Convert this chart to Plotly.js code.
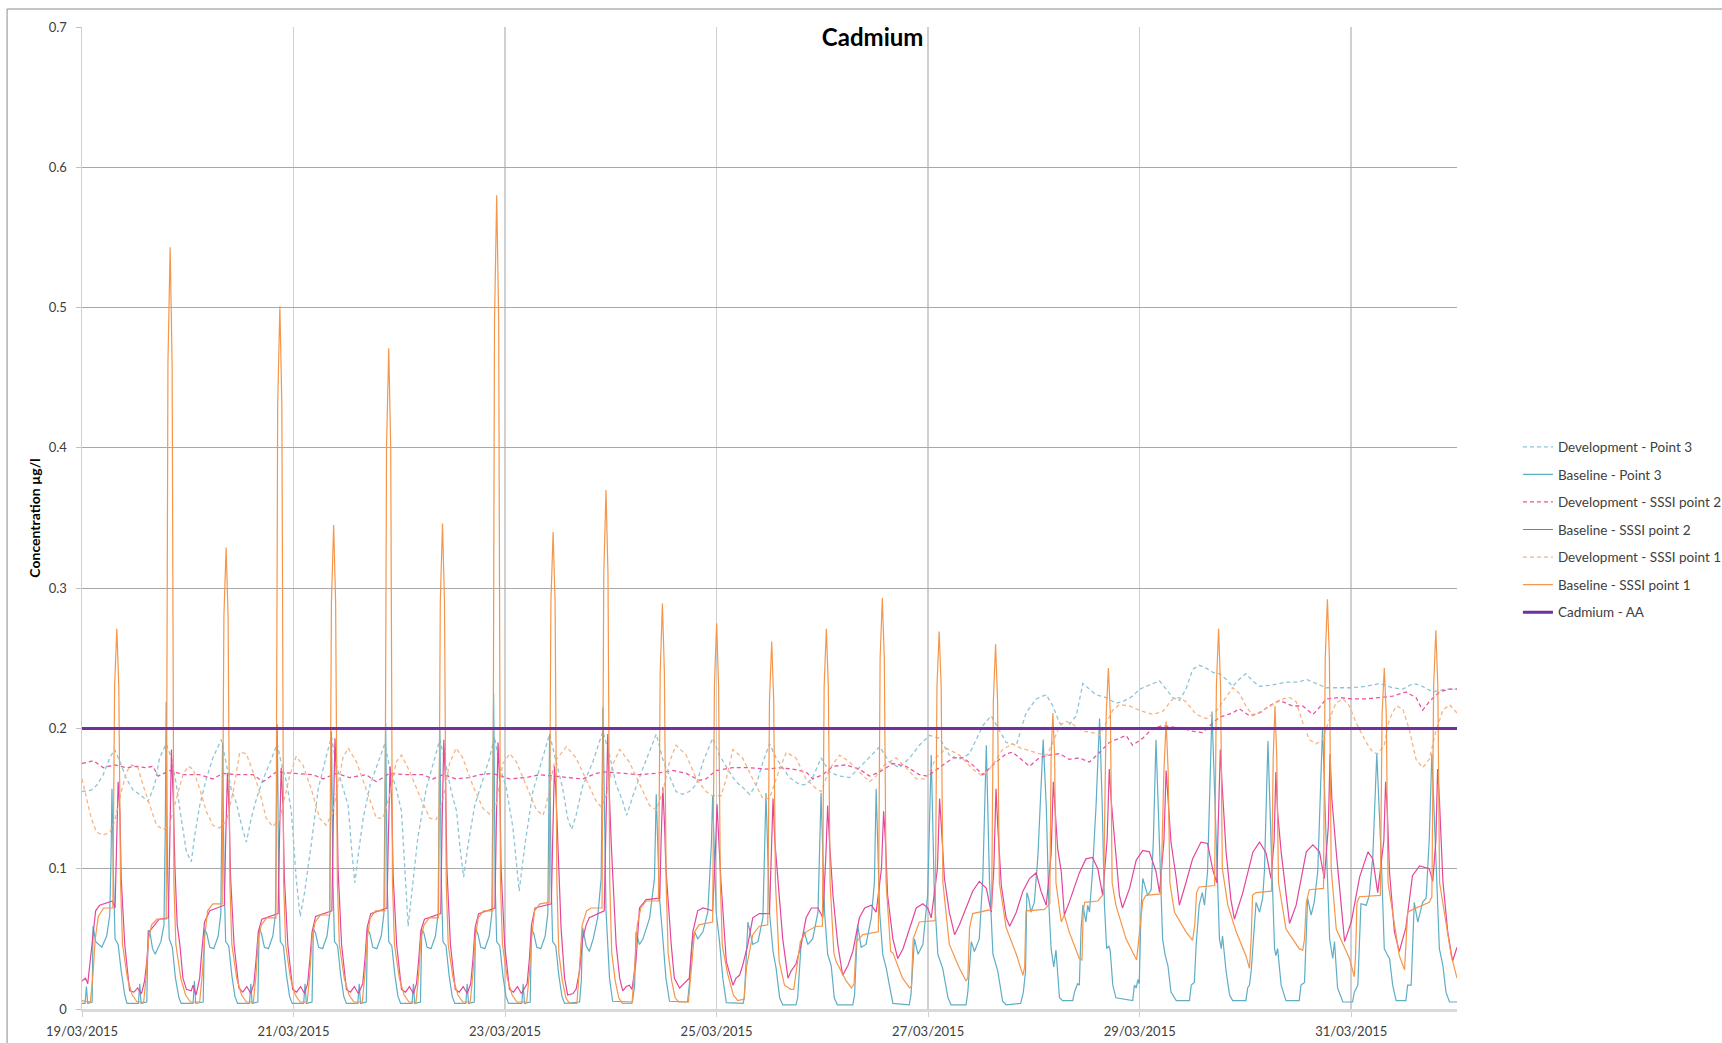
<!DOCTYPE html>
<html>
<head>
<meta charset="utf-8">
<script src="https://cdn.plot.ly/plotly-3.0.1.min.js"></script>
<style>html,body{margin:0;padding:0;background:#fff;}#chart{width:1722px;height:1043px;}</style>
</head>
<body>
<div id="chart"></div>
<script>
// Hours after 19/03/2015 00:00 and concentration (µg/l)
const devPoint3 = [
[0,0.155],[2.1,0.156],[3.5,0.160],[4.8,0.167],[6.3,0.179],[7.4,0.185],[8.5,0.177],[10.1,0.164],[11.6,0.156],[13.1,0.153],[15.0,0.148],[16.5,0.16],[17.6,0.179],[19.1,0.189],[20.3,0.179],[21.4,0.16],[22.5,0.136],[23.7,0.112],[24.8,0.105],[25.6,0.124],[26.7,0.145],[28.2,0.164],[29.7,0.179],[31.6,0.192],[32.8,0.174],[33.9,0.156],[35.0,0.147],[36.2,0.131],[37.3,0.119],[38.4,0.136],[39.6,0.15],[41.1,0.164],[42.6,0.175],[44.3,0.189],[45.3,0.174],[46.4,0.162],[47.5,0.141],[48.6,0.093],[49.5,0.066],[50.5,0.083],[52.0,0.117],[53.6,0.157],[55.5,0.181],[56.6,0.194],[57.7,0.174],[59.2,0.157],[60.4,0.145],[61.1,0.117],[61.9,0.09],[62.6,0.108],[63.8,0.136],[65.4,0.16],[67.2,0.176],[68.7,0.189],[69.8,0.172],[71.3,0.157],[72.5,0.141],[73.2,0.103],[74.0,0.059],[74.8,0.082],[76.2,0.122],[78.1,0.157],[79.6,0.174],[81.2,0.192],[82.7,0.172],[83.8,0.155],[85.0,0.141],[85.7,0.117],[86.6,0.094],[87.6,0.117],[89.1,0.145],[91.0,0.165],[92.5,0.179],[93.6,0.194],[94.7,0.174],[96.3,0.157],[97.8,0.129],[99.2,0.084],[100.5,0.117],[102.3,0.155],[104.2,0.175],[106.1,0.196],[107.6,0.176],[109.1,0.157],[110.2,0.136],[111.1,0.128],[112.1,0.138],[113.6,0.159],[115.9,0.176],[118.2,0.198],[119.7,0.181],[121.2,0.16],[122.7,0.148],[123.6,0.138],[125.0,0.152],[127.2,0.171],[130.3,0.196],[131.8,0.178],[133.3,0.166],[134.8,0.155],[136.3,0.153],[137.8,0.155],[139.4,0.16],[140.9,0.176],[143.1,0.193],[144.6,0.181],[146.9,0.169],[148.4,0.162],[149.9,0.158],[151.5,0.153],[153.0,0.16],[154.5,0.176],[156.0,0.189],[157.5,0.179],[159.0,0.172],[160.5,0.165],[162.8,0.16],[164.3,0.16],[165.8,0.165],[167.7,0.179],[169.6,0.169],[171.9,0.166],[174.2,0.165],[176.4,0.172],[178.7,0.179],[181.0,0.187],[183.2,0.176],[185.5,0.172],[187.8,0.179],[190.0,0.188],[192.3,0.195],[194.6,0.193],[196.8,0.181],[199.1,0.178],[201.4,0.182],[204.4,0.202],[206.3,0.209],[208.2,0.198],[209.7,0.19],[212.0,0.188],[214.2,0.211],[216.5,0.221],[218.8,0.224],[220.3,0.216],[221.8,0.204],[223.3,0.2],[225.6,0.209],[227.1,0.232],[228.6,0.228],[230.1,0.224],[232.4,0.222],[234.6,0.218],[236.1,0.219],[238.4,0.223],[240.0,0.228],[242.2,0.231],[244.5,0.234],[246.0,0.228],[247.5,0.222],[249.0,0.22],[250.5,0.228],[252.0,0.242],[253.5,0.245],[255.1,0.243],[256.6,0.24],[258.1,0.239],[259.6,0.235],[261.1,0.23],[262.6,0.235],[264.1,0.239],[265.6,0.234],[267.2,0.23],[270.2,0.231],[273.2,0.233],[276.2,0.233],[277.8,0.235],[280.0,0.232],[282.3,0.229],[285.3,0.229],[288.3,0.229],[291.4,0.23],[294.4,0.232],[297.4,0.229],[299.7,0.228],[302.0,0.232],[303.5,0.231],[306.5,0.226],[309.5,0.228],[312.0,0.228]
];

const basePoint3 = [
[0,0.004],[0.7,0.004],[1.0,0.016],[1.3,0.004],[2.3,0.005],[2.5,0.059],[3.1,0.048],[3.7,0.046],[4.5,0.044],[5.6,0.052],[6.3,0.067],[6.6,0.11],[6.8,0.157],[7.1,0.1],[7.5,0.05],[8.2,0.046],[8.9,0.027],[9.7,0.01],[10.2,0.004],
[12.8,0.004],[13.1,0.018],[13.4,0.004],[14.7,0.005],[15.0,0.056],[15.4,0.055],[16.0,0.043],[16.6,0.039],[17.9,0.048],[18.6,0.06],[18.9,0.13],[19.1,0.219],[19.4,0.1],[19.8,0.05],[20.5,0.044],[21.2,0.022],[22.0,0.008],[22.5,0.004],
[25.2,0.004],[25.5,0.02],[25.8,0.004],[27.5,0.005],[27.8,0.057],[28.3,0.054],[29.0,0.044],[29.9,0.043],[30.9,0.052],[31.5,0.068],[31.9,0.19],[32.25,0.09],[32.6,0.048],[33.3,0.045],[34.0,0.024],[34.7,0.009],[35.3,0.004],
[38.0,0.004],[38.3,0.018],[38.6,0.004],[39.9,0.005],[40.2,0.057],[40.7,0.054],[41.4,0.044],[42.3,0.043],[43.3,0.052],[43.9,0.068],[44.3,0.203],[44.65,0.09],[45.0,0.048],[45.7,0.045],[46.4,0.024],[47.1,0.009],[47.7,0.004],
[50.3,0.004],[50.6,0.018],[50.9,0.004],[52.2,0.005],[52.5,0.057],[53.0,0.054],[53.7,0.044],[54.6,0.043],[55.6,0.052],[56.2,0.068],[56.6,0.198],[56.95,0.09],[57.3,0.048],[58.0,0.045],[58.7,0.024],[59.4,0.009],[60.0,0.004],
[62.6,0.004],[62.9,0.018],[63.2,0.004],[64.5,0.005],[64.8,0.057],[65.3,0.054],[66.0,0.044],[66.9,0.043],[67.9,0.052],[68.5,0.068],[68.9,0.204],[69.25,0.09],[69.6,0.048],[70.3,0.045],[71.0,0.024],[71.7,0.009],[72.3,0.004],
[74.9,0.004],[75.2,0.018],[75.5,0.004],[76.8,0.005],[77.1,0.057],[77.6,0.054],[78.3,0.044],[79.2,0.043],[80.2,0.052],[80.8,0.068],[81.2,0.199],[81.55,0.09],[81.9,0.048],[82.6,0.045],[83.3,0.024],[84.0,0.009],[84.6,0.004],
[87.1,0.004],[87.4,0.018],[87.7,0.004],[89.0,0.005],[89.3,0.057],[89.8,0.054],[90.5,0.044],[91.4,0.043],[92.4,0.052],[93.0,0.068],[93.4,0.225],[93.75,0.09],[94.1,0.048],[94.8,0.045],[95.5,0.024],[96.2,0.009],[96.8,0.004],
[99.8,0.004],[100.1,0.018],[100.4,0.004],[101.7,0.005],[102.0,0.057],[102.5,0.054],[103.2,0.044],[104.1,0.043],[105.1,0.052],[105.7,0.068],[106.1,0.196],[106.45,0.09],[106.8,0.048],[107.5,0.045],[108.2,0.024],[108.9,0.009],[109.5,0.004],
[112.9,0.005],[113.3,0.02],[113.6,0.058],[114.4,0.045],[115.1,0.041],[116.0,0.05],[117.0,0.065],[117.8,0.093],[118.2,0.215],[118.9,0.07],[119.7,0.022],[120.4,0.0055],
[124.9,0.005],[125.4,0.017],[125.7,0.055],[126.5,0.046],[127.3,0.05],[128.8,0.065],[129.9,0.093],[130.3,0.153],[131.0,0.081],[131.8,0.05],[132.5,0.022],[133.3,0.0055],
[137.4,0.005],[137.8,0.017],[138.4,0.046],[139.0,0.055],[139.7,0.05],[140.9,0.055],[142.0,0.069],[142.8,0.117],[143.1,0.152],[143.9,0.069],[144.6,0.05],[145.4,0.022],[146.2,0.0045],
[150.0,0.004],[150.3,0.008],[151.1,0.062],[152.2,0.046],[153.4,0.048],[154.5,0.065],[155.2,0.154],[156.0,0.069],[156.8,0.041],[157.5,0.029],[158.3,0.008],[159.0,0.003],
[162.0,0.003],[162.4,0.008],[163.2,0.048],[163.9,0.055],[164.7,0.046],[165.8,0.05],[167.0,0.069],[167.7,0.154],[168.5,0.069],[169.2,0.039],[170.0,0.031],[170.7,0.008],[171.4,0.003],
[174.9,0.003],[175.3,0.01],[176.0,0.06],[176.8,0.044],[177.9,0.046],[179.1,0.065],[179.8,0.09],[180.2,0.157],[181.0,0.069],[181.7,0.039],[182.5,0.029],[183.2,0.017],[184.0,0.004],
[187.7,0.003],[188.1,0.01],[188.9,0.05],[189.7,0.039],[190.8,0.046],[191.9,0.082],[192.7,0.181],[193.4,0.082],[194.2,0.039],[195.3,0.029],[196.5,0.008],[197.2,0.003],
[200.6,0.003],[201.0,0.012],[201.8,0.048],[202.5,0.041],[203.6,0.05],[204.4,0.093],[205.2,0.188],[205.9,0.093],[206.7,0.039],[207.8,0.027],[208.9,0.0055],[209.7,0.003],
[213.0,0.004],[213.6,0.012],[214.1,0.027],[214.4,0.083],[214.8,0.079],[215.3,0.069],[216.1,0.076],[216.9,0.109],[217.6,0.157],[218.1,0.192],[218.8,0.145],[219.4,0.074],[219.9,0.043],[220.5,0.03],[221.0,0.042],[221.8,0.008],[222.5,0.006],[224.8,0.006],[225.2,0.012],[225.9,0.018],[226.3,0.017],
[226.7,0.057],[227.1,0.074],[227.8,0.062],[228.2,0.074],[228.6,0.069],[229.3,0.098],[230.1,0.145],[230.9,0.207],[231.5,0.145],[232.0,0.074],[232.5,0.043],[233.0,0.045],[233.3,0.042],[233.9,0.017],[234.6,0.008],[238.4,0.006],[238.8,0.017],[239.2,0.015],[239.6,0.021],[239.9,0.018],
[240.3,0.07],[240.7,0.093],[241.8,0.081],[242.6,0.085],[243.1,0.12],[243.7,0.192],[244.5,0.121],[245.2,0.05],[245.8,0.038],[246.4,0.031],[247.1,0.012],[248.3,0.006],[251.3,0.006],[251.7,0.017],[252.4,0.019],
[252.8,0.045],[253.5,0.074],[254.2,0.083],[254.7,0.074],[255.4,0.098],[256.4,0.212],[257.3,0.133],[258.1,0.05],[258.5,0.043],[258.8,0.052],[259.6,0.027],[260.4,0.01],[261.1,0.006],[264.1,0.006],[264.5,0.015],[264.9,0.017],[265.3,0.027],[265.6,0.041],
[266.4,0.076],[267.2,0.069],[267.9,0.079],[268.3,0.098],[269.1,0.191],[269.8,0.12],[270.6,0.043],[270.9,0.038],[271.3,0.043],[272.1,0.017],[273.2,0.006],[276.2,0.006],[276.6,0.017],[277.4,0.019],
[278.1,0.079],[278.9,0.067],[279.6,0.076],[280.4,0.098],[281.5,0.201],[282.3,0.121],[283.1,0.05],[283.8,0.036],[284.2,0.048],[284.9,0.015],[286.1,0.005],[288.3,0.005],
[288.7,0.012],[289.5,0.017],[290.2,0.075],[291.4,0.074],[292.1,0.081],[292.9,0.109],[293.8,0.182],[294.8,0.109],[295.5,0.043],[296.3,0.038],[296.7,0.036],[297.4,0.017],[298.2,0.006],[300.4,0.006],
[300.8,0.017],[301.6,0.017],[302.3,0.076],[303.1,0.062],[304.2,0.076],[305.0,0.079],[305.7,0.121],[306.3,0.182],[307.1,0.121],[308.0,0.043],[308.8,0.031],[309.5,0.012],[310.3,0.005],[312.0,0.005]
];

const devSSSI2 = [
[0,0.175],[2.6,0.177],[4.8,0.172],[7.4,0.174],[10.1,0.172],[12.3,0.173],[14.6,0.172],[16.1,0.173],[17.3,0.166],[19.9,0.17],[22.9,0.167],[26.7,0.167],[29.7,0.164],[32.0,0.168],[35.0,0.167],[38.8,0.167],[41.1,0.162],[44.1,0.169],[47.9,0.168],[52.4,0.167],[54.7,0.164],[57.7,0.168],[60.7,0.165],[64.5,0.167],[66.8,0.162],[69.8,0.168],[73.6,0.167],[77.4,0.167],[79.6,0.164],[81.9,0.167],[84.9,0.164],[87.9,0.165],[90.2,0.167],[93.2,0.168],[97.0,0.164],[100.8,0.165],[103.8,0.167],[106.8,0.166],[109.9,0.165],[113.6,0.164],[116.7,0.168],[118.9,0.169],[122.7,0.168],[126.5,0.167],[130.3,0.168],[134.1,0.17],[137.1,0.168],[140.1,0.163],[141.6,0.164],[143.9,0.17],[147.7,0.172],[151.5,0.172],[155.2,0.171],[158.3,0.172],[161.3,0.171],[164.3,0.169],[165.8,0.164],[168.1,0.167],[170.4,0.173],[173.4,0.174],[176.4,0.171],[178.7,0.166],[181.0,0.169],[184.0,0.175],[187.0,0.173],[190.0,0.167],[191.9,0.166],[194.6,0.172],[197.6,0.179],[199.9,0.179],[202.1,0.174],[204.4,0.167],[206.7,0.174],[209.7,0.182],[211.2,0.183],[213.5,0.177],[215.0,0.173],[217.2,0.179],[219.5,0.181],[221.8,0.182],[224.0,0.178],[226.3,0.179],[228.6,0.176],[230.9,0.183],[233.1,0.19],[234.6,0.192],[236.9,0.195],[238.4,0.188],[240.7,0.193],[242.9,0.2],[245.2,0.202],[247.5,0.201],[249.8,0.2],[252.0,0.198],[254.3,0.197],[256.6,0.204],[258.1,0.208],[261.1,0.211],[262.6,0.214],[264.9,0.209],[267.2,0.211],[269.4,0.216],[271.7,0.22],[274.7,0.216],[277.0,0.216],[279.3,0.21],[280.8,0.215],[282.3,0.221],[285.3,0.222],[288.3,0.221],[291.4,0.221],[294.4,0.222],[297.4,0.223],[300.4,0.226],[302.7,0.222],[304.2,0.213],[305.7,0.219],[308.0,0.226],[310.3,0.228],[312.0,0.228]
];

const baseSSSI2 = [
[0,0.02],[0.8,0.022],[1.3,0.018],[1.9,0.035],[2.5,0.05],[3.1,0.07],[4.0,0.074],[6.9,0.077],[7.5,0.072],[7.8,0.12],[8.2,0.162],[8.6,0.14],[8.9,0.093],[9.7,0.046],[10.1,0.034],[10.8,0.013],[11.8,0.012],[12.6,0.015],[13.5,0.011],
[14.2,0.02],[14.7,0.034],[15.2,0.055],[16.5,0.06],[17.5,0.064],[19.6,0.065],[19.9,0.13],[20.3,0.185],[20.7,0.15],[21.1,0.1],[21.6,0.06],[22.2,0.046],[22.9,0.022],[23.7,0.014],[24.8,0.013],[25.2,0.017],[25.9,0.01],[26.7,0.022],
[27.1,0.038],[27.8,0.062],[29.0,0.07],[30.5,0.072],[32.3,0.074],[32.6,0.12],[33.0,0.168],[33.4,0.14],[33.7,0.095],[34.5,0.046],[34.9,0.034],[35.6,0.015],[36.5,0.012],[37.4,0.016],[38.3,0.011],
[39.0,0.018],[39.5,0.035],[40.0,0.055],[40.8,0.064],[44.5,0.068],[44.8,0.12],[45.2,0.172],[45.6,0.145],[45.9,0.095],[46.7,0.046],[47.1,0.034],[47.8,0.014],[48.7,0.012],[49.6,0.016],[50.5,0.011],
[51.2,0.018],[51.7,0.035],[52.2,0.055],[53.0,0.066],[56.7,0.07],[57.0,0.13],[57.4,0.193],[57.8,0.16],[58.1,0.1],[58.9,0.046],[59.3,0.034],[60.0,0.014],[60.9,0.012],[61.8,0.016],[62.7,0.011],
[63.7,0.018],[64.2,0.035],[64.7,0.058],[65.5,0.068],[69.2,0.072],[69.5,0.12],[69.9,0.173],[70.3,0.145],[70.6,0.095],[71.4,0.046],[71.8,0.034],[72.5,0.014],[73.4,0.012],[74.3,0.016],[75.2,0.011],
[75.9,0.018],[76.4,0.035],[76.9,0.056],[77.7,0.064],[81.4,0.068],[81.7,0.13],[82.1,0.192],[82.5,0.16],[82.8,0.1],[83.6,0.046],[84.0,0.034],[84.7,0.014],[85.6,0.012],[86.5,0.016],[87.4,0.011],
[88.2,0.018],[88.7,0.035],[89.2,0.058],[90.0,0.068],[93.7,0.072],[94.0,0.13],[94.4,0.19],[94.8,0.16],[95.1,0.1],[95.9,0.046],[96.3,0.034],[97.0,0.014],[97.9,0.012],[98.8,0.016],[99.7,0.011],
[101.0,0.018],[101.5,0.035],[102.0,0.06],[102.8,0.072],[106.5,0.075],[106.8,0.12],[107.2,0.173],[107.6,0.15],[108.0,0.117],[108.7,0.058],[109.5,0.022],[110.2,0.01],[111.4,0.011],[112.1,0.014],
[112.9,0.027],[113.6,0.05],[114.4,0.06],[115.1,0.065],[118.5,0.07],[118.9,0.13],[119.3,0.196],[119.7,0.15],[120.1,0.117],[121.2,0.046],[122.0,0.022],[122.7,0.013],[123.5,0.016],[124.2,0.017],[124.8,0.014],
[125.7,0.034],[126.5,0.072],[128.0,0.078],[131.1,0.079],[131.4,0.12],[131.8,0.158],[132.2,0.13],[132.5,0.1],[133.7,0.046],[134.4,0.022],[135.6,0.015],[136.3,0.017],[137.1,0.02],[137.8,0.022],
[138.6,0.055],[139.7,0.07],[140.9,0.072],[143.1,0.07],[143.7,0.11],[144.1,0.146],[144.5,0.12],[145.0,0.09],[146.2,0.034],[147.7,0.017],[148.4,0.022],[149.2,0.024],[149.9,0.031],
[151.1,0.046],[152.2,0.065],[153.7,0.068],[156.0,0.068],[156.4,0.11],[156.8,0.15],[157.2,0.12],[157.9,0.09],[159.0,0.05],[160.2,0.022],[160.9,0.027],[162.0,0.032],
[163.2,0.046],[164.3,0.065],[165.5,0.072],[167.0,0.072],[168.1,0.065],[168.8,0.11],[169.2,0.145],[169.6,0.12],[170.4,0.081],[171.5,0.046],[172.6,0.024],[173.8,0.031],[174.9,0.041],
[176.4,0.065],[177.6,0.072],[179.1,0.074],[180.2,0.069],[181.4,0.1],[181.9,0.141],[182.3,0.12],[182.8,0.081],[184.0,0.05],[185.1,0.036],[186.3,0.043],[187.8,0.058],
[189.3,0.072],[190.8,0.075],[191.9,0.072],[192.7,0.065],[194.1,0.1],[194.6,0.15],[195.0,0.13],[195.7,0.093],[196.8,0.069],[198.0,0.053],[199.1,0.06],[200.6,0.072],[202.1,0.084],[203.6,0.091],[205.2,0.086],[206.3,0.069],
[206.9,0.1],[207.4,0.157],[207.8,0.13],[208.6,0.088],[209.7,0.065],[210.5,0.059],[212.0,0.069],[213.5,0.084],[215.0,0.093],[216.5,0.097],[217.6,0.084],[218.8,0.074],
[219.9,0.11],[220.4,0.162],[220.8,0.14],[221.4,0.114],[222.2,0.098],[222.9,0.067],[224.0,0.076],[225.2,0.087],[226.3,0.097],[227.8,0.107],[229.3,0.108],[230.5,0.1],[231.6,0.081],
[232.6,0.12],[233.1,0.171],[233.5,0.15],[234.3,0.121],[235.4,0.081],[236.1,0.072],[237.7,0.086],[239.2,0.106],[240.7,0.113],[242.2,0.112],[243.7,0.098],[244.5,0.083],
[245.5,0.12],[246.0,0.17],[246.4,0.15],[247.1,0.119],[248.3,0.093],[249.0,0.074],[250.5,0.09],[252.0,0.107],[253.9,0.119],[255.4,0.118],[256.6,0.099],[257.5,0.09],
[257.8,0.13],[258.3,0.185],[258.7,0.16],[259.6,0.112],[260.7,0.078],[261.5,0.064],[263.4,0.083],[265.7,0.112],[267.2,0.119],[268.7,0.111],[269.8,0.093],
[270.5,0.12],[270.9,0.169],[271.3,0.14],[272.1,0.112],[273.2,0.083],[274.0,0.061],[275.5,0.074],[277.8,0.112],[279.3,0.117],[280.8,0.112],[281.9,0.093],
[282.8,0.13],[283.2,0.182],[283.6,0.15],[284.6,0.112],[285.7,0.077],[286.5,0.048],[288.0,0.062],[289.9,0.094],[291.8,0.112],[292.9,0.107],[294.0,0.083],
[295.4,0.12],[295.8,0.162],[296.2,0.14],[296.7,0.097],[297.8,0.055],[298.9,0.041],[300.4,0.058],[301.9,0.095],[303.5,0.102],[305.7,0.1],[306.5,0.091],
[307.2,0.12],[307.6,0.171],[308.0,0.15],[308.8,0.091],[309.9,0.055],[311.0,0.034],[312.0,0.044]
];

const devSSSI1 = [
[0,0.164],[1.0,0.15],[2.1,0.136],[3.3,0.126],[4.8,0.124],[6.3,0.126],[7.4,0.134],[8.6,0.151],[10.1,0.169],[11.2,0.174],[12.7,0.172],[13.8,0.16],[15.4,0.145],[16.9,0.131],[18.4,0.128],[19.9,0.131],[21.0,0.145],[22.9,0.167],[24.1,0.173],[25.2,0.171],[26.7,0.157],[28.2,0.141],[29.7,0.131],[31.2,0.129],[32.8,0.134],[34.3,0.155],[35.8,0.183],[37.3,0.182],[38.8,0.169],[40.3,0.155],[41.8,0.136],[43.3,0.13],[44.9,0.136],[47.1,0.166],[48.6,0.18],[50.1,0.174],[52.0,0.157],[53.9,0.136],[55.4,0.131],[56.9,0.14],[59.2,0.179],[60.4,0.186],[62.3,0.176],[64.5,0.157],[66.8,0.136],[68.3,0.136],[69.8,0.152],[71.3,0.176],[72.5,0.181],[74.4,0.169],[76.6,0.152],[78.9,0.136],[80.4,0.135],[81.9,0.149],[83.4,0.175],[84.9,0.186],[86.4,0.179],[88.7,0.159],[91.0,0.143],[92.5,0.139],[94.0,0.146],[95.5,0.175],[97.1,0.182],[98.6,0.176],[100.8,0.159],[103.1,0.142],[104.6,0.138],[105.3,0.145],[107.2,0.176],[109.9,0.187],[112.1,0.179],[114.4,0.164],[116.7,0.148],[117.8,0.144],[118.9,0.152],[120.4,0.174],[122.0,0.185],[124.2,0.176],[126.5,0.16],[128.8,0.145],[130.3,0.142],[131.8,0.155],[133.3,0.176],[134.8,0.188],[137.1,0.181],[139.4,0.164],[141.6,0.155],[143.1,0.152],[145.0,0.152],[146.2,0.164],[147.7,0.185],[149.9,0.179],[152.2,0.164],[154.5,0.15],[156.0,0.15],[157.5,0.164],[159.8,0.183],[162.0,0.179],[164.3,0.164],[166.6,0.157],[167.7,0.155],[169.6,0.171],[171.9,0.181],[174.2,0.176],[176.4,0.169],[178.7,0.162],[180.2,0.166],[181.7,0.173],[184.7,0.179],[187.0,0.172],[189.3,0.164],[191.5,0.164],[193.8,0.179],[196.1,0.186],[199.1,0.181],[202.1,0.171],[204.4,0.166],[206.7,0.174],[208.9,0.185],[211.2,0.189],[213.0,0.186],[215.0,0.184],[217.2,0.182],[219.0,0.181],[220.3,0.19],[221.8,0.202],[223.3,0.205],[224.8,0.203],[227.1,0.198],[229.4,0.197],[230.9,0.195],[232.4,0.204],[233.9,0.213],[235.4,0.217],[237.7,0.216],[239.9,0.213],[242.9,0.21],[245.2,0.212],[247.5,0.221],[249.0,0.222],[250.5,0.219],[252.8,0.21],[255.1,0.207],[257.3,0.212],[258.8,0.219],[261.1,0.229],[262.6,0.225],[264.1,0.216],[265.7,0.209],[267.9,0.213],[270.9,0.218],[272.5,0.221],[274.0,0.222],[275.5,0.219],[277.0,0.204],[278.5,0.192],[280.0,0.189],[281.5,0.192],[283.0,0.206],[284.5,0.218],[286.1,0.221],[287.6,0.216],[289.1,0.204],[291.4,0.19],[292.9,0.183],[294.0,0.182],[295.5,0.188],[296.6,0.206],[298.2,0.216],[299.7,0.214],[301.2,0.199],[302.7,0.178],[304.2,0.172],[305.7,0.178],[307.2,0.198],[308.8,0.213],[310.3,0.217],[312.0,0.211]
];

const baseSSSI1 = [
[0,0.006],[1.9,0.005],[2.5,0.025],[3.0,0.05],[3.7,0.066],[4.9,0.072],[7.0,0.072],[7.4,0.23],[7.9,0.271],[8.35,0.23],[8.75,0.09],[9.2,0.046],[10.3,0.022],[11.4,0.01],[12.5,0.005],
[14.0,0.005],[14.6,0.025],[15.1,0.05],[15.8,0.06],[17.0,0.064],[19.1,0.064],[19.5,0.46],[20.0,0.543],[20.45,0.46],[20.85,0.09],[21.3,0.046],[22.4,0.022],[23.5,0.01],[24.6,0.005],
[26.7,0.005],[27.3,0.025],[27.8,0.05],[28.5,0.07],[29.7,0.075],[31.8,0.075],[32.2,0.28],[32.7,0.329],[33.15,0.28],[33.55,0.09],[34.0,0.046],[35.1,0.022],[36.2,0.01],[37.3,0.005],
[38.9,0.005],[39.5,0.025],[40.0,0.05],[40.7,0.06],[41.9,0.065],[44.0,0.065],[44.4,0.43],[44.9,0.501],[45.35,0.43],[45.75,0.09],[46.2,0.046],[47.3,0.022],[48.4,0.01],[49.5,0.005],
[51.1,0.005],[51.7,0.025],[52.2,0.05],[52.9,0.062],[54.1,0.067],[56.2,0.067],[56.6,0.29],[57.1,0.345],[57.55,0.29],[57.95,0.09],[58.4,0.046],[59.5,0.022],[60.6,0.01],[61.7,0.005],
[63.6,0.005],[64.2,0.025],[64.7,0.05],[65.4,0.065],[66.6,0.07],[68.7,0.07],[69.1,0.40],[69.6,0.471],[70.05,0.40],[70.45,0.09],[70.9,0.046],[72.0,0.022],[73.1,0.01],[74.2,0.005],
[75.8,0.005],[76.4,0.025],[76.9,0.05],[77.6,0.06],[78.8,0.065],[80.9,0.065],[81.3,0.29],[81.8,0.346],[82.25,0.29],[82.65,0.09],[83.1,0.046],[84.2,0.022],[85.3,0.01],[86.4,0.005],
[88.1,0.005],[88.7,0.025],[89.2,0.05],[89.9,0.065],[91.1,0.07],[93.2,0.07],[93.6,0.49],[94.1,0.58],[94.55,0.49],[94.95,0.09],[95.4,0.046],[96.5,0.022],[97.6,0.01],[98.7,0.005],
[100.9,0.005],[101.5,0.025],[102.0,0.05],[102.7,0.07],[103.9,0.075],[106.0,0.076],[106.4,0.29],[106.9,0.34],[107.35,0.29],[107.75,0.09],[108.2,0.04],[109.0,0.02],[109.8,0.008],[110.6,0.004],
[112.3,0.004],[112.9,0.03],[113.5,0.06],[114.5,0.07],[115.5,0.072],[118.0,0.072],[118.4,0.31],[118.9,0.37],[119.35,0.31],[119.75,0.09],[120.2,0.04],[121.0,0.02],[121.8,0.008],[122.6,0.004],
[124.8,0.004],[125.4,0.03],[126.0,0.06],[126.8,0.072],[128.0,0.077],[130.8,0.077],[131.2,0.24],[131.7,0.289],[132.15,0.24],[132.55,0.09],[133.0,0.04],[133.8,0.02],[134.6,0.008],[135.4,0.005],
[137.6,0.005],[138.3,0.03],[139.0,0.055],[140.0,0.06],[141.5,0.061],[143.1,0.062],[143.5,0.23],[144.0,0.275],[144.45,0.23],[144.85,0.09],[145.3,0.045],[146.5,0.025],[147.8,0.01],[148.8,0.006],
[150.2,0.007],[150.8,0.03],[152.2,0.053],[153.7,0.059],[155.6,0.06],[156.0,0.22],[156.5,0.262],[156.95,0.22],[157.35,0.09],[158.2,0.034],[159.4,0.017],[160.8,0.014],
[161.5,0.014],[162.4,0.035],[163.0,0.048],[164.3,0.055],[166.6,0.059],[168.0,0.059],[168.4,0.23],[168.9,0.271],[169.35,0.23],[169.75,0.09],[170.6,0.04],[171.1,0.034],[173.4,0.02],[174.6,0.015],
[175.2,0.018],[175.7,0.048],[177.2,0.053],[180.7,0.055],[181.1,0.25],[181.6,0.293],[182.05,0.25],[182.45,0.09],[183.5,0.041],[184.0,0.04],[186.2,0.022],[187.8,0.015],
[188.2,0.016],[188.6,0.05],[190.0,0.062],[193.6,0.063],[194.0,0.23],[194.5,0.269],[194.95,0.23],[195.35,0.09],[196.8,0.046],[199.1,0.029],[200.6,0.02],
[201.0,0.022],[201.4,0.058],[202.1,0.068],[206.4,0.071],[206.8,0.22],[207.3,0.26],[207.75,0.22],[208.15,0.09],[209.7,0.058],[212.0,0.039],[213.5,0.024],
[213.9,0.03],[214.2,0.07],[218.4,0.071],[219.6,0.075],[219.9,0.18],[220.3,0.211],[220.7,0.18],[221.0,0.09],[222.2,0.062],[222.9,0.067],[224.0,0.055],[226.3,0.036],[226.9,0.035],
[227.2,0.07],[227.5,0.076],[230.5,0.077],[231.8,0.082],[232.4,0.21],[232.9,0.243],[233.35,0.21],[233.75,0.09],[234.6,0.074],[236.9,0.05],[239.3,0.035],
[239.6,0.045],[240.7,0.077],[241.4,0.081],[244.8,0.082],[245.5,0.17],[246.0,0.205],[246.45,0.17],[246.85,0.09],[247.9,0.069],[250.5,0.055],[252.0,0.049],
[252.5,0.06],[252.9,0.083],[253.5,0.087],[257.0,0.088],[257.4,0.23],[257.9,0.271],[258.35,0.23],[258.75,0.1],[260.0,0.074],[261.9,0.055],[264.1,0.038],[264.9,0.029],
[265.3,0.05],[265.6,0.081],[266.4,0.083],[269.9,0.084],[270.3,0.18],[270.7,0.216],[271.1,0.18],[271.5,0.09],[273.2,0.057],[276.2,0.043],[277.0,0.042],
[277.4,0.05],[277.8,0.076],[278.5,0.085],[281.7,0.086],[282.1,0.25],[282.6,0.292],[283.05,0.25],[283.45,0.1],[284.6,0.057],[287.6,0.036],[288.7,0.023],
[289.0,0.04],[289.3,0.076],[289.9,0.08],[294.6,0.081],[295.0,0.21],[295.5,0.243],[295.95,0.21],[296.35,0.09],[297.8,0.062],[298.9,0.038],[300.1,0.028],
[300.5,0.05],[300.8,0.069],[302.0,0.071],[305.7,0.076],[306.3,0.08],[306.7,0.23],[307.2,0.27],[307.65,0.23],[308.05,0.09],[309.5,0.062],[310.7,0.038],[312.0,0.022]
];

const cadmiumAA = [[0,0.2],[312,0.2]];

const seriesNames = ['Development - Point 3','Baseline - Point 3','Development - SSSI point 2','Baseline - SSSI point 2','Development - SSSI point 1','Baseline - SSSI point 1','Cadmium - AA'];
const seriesColors = ['#8CC5D6','#5EAEC6','#E8559F','#E3469B','#F7B483','#F5964A','#7030A0'];
const xTickFormat = '%d/%m/%Y';

const startMs = Date.UTC(2015, 2, 19);
function toDate(h) {
  return new Date(startMs + Math.round(h * 3600000)).toISOString().slice(0, 19).replace('T', ' ');
}
function mk(data, i, dash, width) {
  return {
    type: 'scatter', mode: 'lines',
    x: data.map(p => toDate(p[0])), y: data.map(p => p[1]),
    name: seriesNames[i], legendgroup: 'g' + i,
    line: {color: seriesColors[i], width: width, dash: dash},
    hoverinfo: 'skip'
  };
}
const traces = [
  mk(devPoint3, 0, '4px,3px', 1.3),
  mk(basePoint3, 1, 'solid', 1.2),
  mk(devSSSI2, 2, '4px,3px', 1.3),
  mk(baseSSSI2, 3, 'solid', 1.2),
  mk(devSSSI1, 4, '4px,3px', 1.3),
  mk(baseSSSI1, 5, 'solid', 1.2),
  mk(cadmiumAA, 6, 'solid', 3)
];

const layout = {
  width: 1722, height: 1043,
  margin: {l: 82, r: 265, t: 27, b: 34, autoexpand: false},
  paper_bgcolor: '#ffffff', plot_bgcolor: '#ffffff',
  font: {family: 'Lato, "Open Sans", sans-serif', color: '#404040'},
  showlegend: true,
  title: {
    text: '<b>Cadmium</b>', xref: 'paper', x: 0.575, xanchor: 'center',
    yref: 'container', y: 0.9636, yanchor: 'middle',
    font: {size: 24, color: '#000000', family: 'Lato, "Open Sans", sans-serif'}
  },
  xaxis: {
    type: 'date', range: [toDate(0), toDate(312)],
    tick0: toDate(0), dtick: 172800000, tickformat: xTickFormat,
    showgrid: true, gridcolor: '#d0d0d0', gridwidth: 1.5,
    ticks: 'outside', ticklen: 5, tickcolor: '#d0d0d0',
    showline: true, linecolor: '#d9d9d9', linewidth: 3,
    zeroline: false, tickfont: {size: 13, color: '#404040'},
    ticklabelstandoff: 3
  },
  yaxis: {
    range: [0, 0.7], dtick: 0.1, tick0: 0,
    showgrid: true, gridcolor: '#a8a8a8', gridwidth: 1,
    ticks: 'outside', ticklen: 5, tickcolor: '#bfbfbf',
    showline: true, linecolor: '#d0d0d0', linewidth: 1.5,
    zeroline: false, tickfont: {size: 13, color: '#404040'},
    ticklabelstandoff: 6,
    title: {text: '<b>Concentration µg/l</b>', font: {size: 14, color: '#000000'}, standoff: 5}
  },
  legend: {
    xref: 'container', yref: 'container',
    x: 0.8815, xanchor: 'left', y: 0.5862, yanchor: 'top',
    font: {size: 13.5, color: '#404040'},
    tracegroupgap: 7, bgcolor: 'rgba(0,0,0,0)', traceorder: 'grouped'
  },
  shapes: [{
    type: 'rect', xref: 'paper', yref: 'paper',
    x0: -0.0545, x1: 1.3, y0: -0.1, y1: 1.0183,
    line: {color: '#8a8a8a', width: 1}, fillcolor: 'rgba(0,0,0,0)', layer: 'above'
  }]
};

Plotly.newPlot('chart', traces, layout, {displayModeBar: false, staticPlot: true});
</script>
</body>
</html>
